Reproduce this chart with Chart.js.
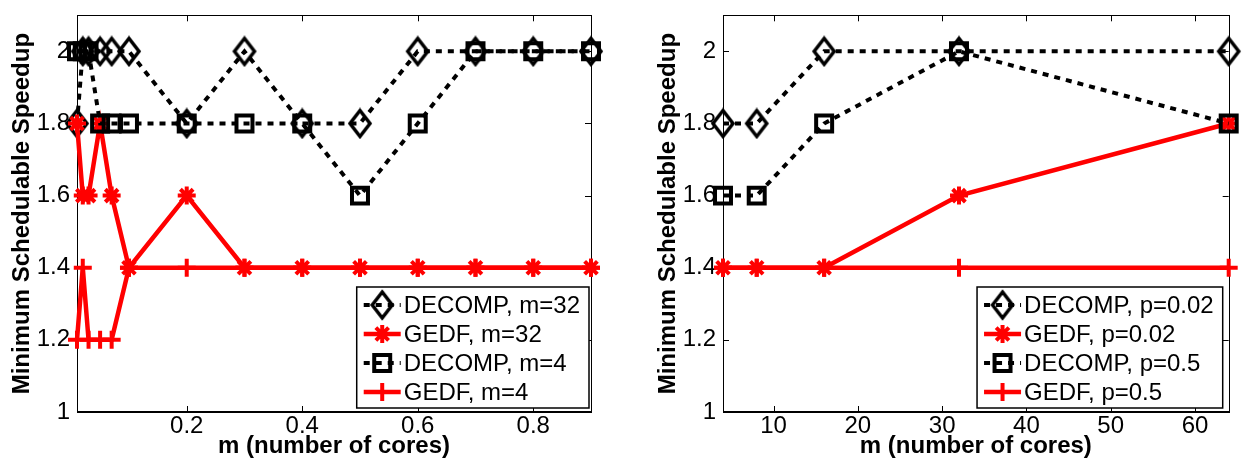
<!DOCTYPE html>
<html><head><meta charset="utf-8">
<script src="https://cdn.jsdelivr.net/npm/chart.js@4.4.0/dist/chart.umd.min.js"></script>
<style>
html,body{margin:0;padding:0;background:#fff;}
#wrap{position:relative;width:1244px;height:465px;overflow:hidden;}
canvas{position:absolute;top:0;}
</style></head><body>
<div id="wrap">
<canvas id="c1" width="622" height="465" style="left:0"></canvas>
<canvas id="c2" width="622" height="465" style="left:622px"></canvas>
</div>
<script>
// ---- data ----
const fracX      = [0.01,0.02,0.03,0.05,0.07,0.1,0.2,0.3,0.4,0.5,0.6,0.7,0.8,0.9];
const decompM32  = [1.8,2,2,2,2,2,1.8,2,1.8,1.8,2,2,2,2];
const gedfM32    = [1.8,1.6,1.6,1.8,1.6,1.4,1.6,1.4,1.4,1.4,1.4,1.4,1.4,1.4];
const decompM4   = [2,2,2,1.8,1.8,1.8,1.8,1.8,1.8,1.6,1.8,2,2,2];
const gedfM4     = [1.2,1.4,1.2,1.2,1.2,1.4,1.4,1.4,1.4,1.4,1.4,1.4,1.4,1.4];
const coresX     = [4,8,16,32,64];
const decompP002 = [1.8,1.8,2,2,2];
const gedfP002   = [1.4,1.4,1.4,1.6,1.8];
const decompP05  = [1.6,1.6,1.8,2,1.8];
const gedfP05    = [1.4,1.4,1.4,1.4,1.4];
const leftXTicks  = [0.2,0.4,0.6,0.8];
const rightXTicks = [10,20,30,40,50,60];
const yTicks      = [1,1.2,1.4,1.6,1.8,2];
const leftLabels  = ['DECOMP, m=32','GEDF, m=32','DECOMP, m=4','GEDF, m=4'];
const rightLabels = ['DECOMP, p=0.02','GEDF, p=0.02','DECOMP, p=0.5','GEDF, p=0.5'];
const xTitle = 'm (number of cores)';
const yTitle = 'Minimum Schedulable Speedup';

const FAM = '"Liberation Sans", Arial, Helvetica, sans-serif';

// diamond marker (MATLAB-like, slightly taller than wide, unfilled)
const diamond = document.createElement('canvas');
diamond.width = 26; diamond.height = 32;
(function(){const c=diamond.getContext('2d');c.strokeStyle='#000';c.lineWidth=3.5;c.lineJoin='miter';
c.beginPath();c.moveTo(13,3);c.lineTo(23,16);c.lineTo(13,29);c.lineTo(3,16);c.closePath();c.stroke();})();

const STYLES = {
  diamond:{borderColor:'#000',borderWidth:4,borderDash:[6,6],pointStyle:diamond,pointRadius:11,
           pointBorderColor:'#000',pointBackgroundColor:'rgba(0,0,0,0)',pointBorderWidth:3},
  star:{borderColor:'#ff0000',borderWidth:4.5,pointStyle:'star',pointRadius:9,
        pointBorderColor:'#ff0000',pointBackgroundColor:'#ff0000',pointBorderWidth:4},
  square:{borderColor:'#000',borderWidth:4,borderDash:[6,6],pointStyle:'rect',pointRadius:11.3,
          pointBorderColor:'#000',pointBackgroundColor:'rgba(0,0,0,0)',pointBorderWidth:4},
  plus:{borderColor:'#ff0000',borderWidth:4.5,pointStyle:'cross',pointRadius:9,
        pointBorderColor:'#ff0000',pointBackgroundColor:'#ff0000',pointBorderWidth:4}
};
const KINDS = ['diamond','star','square','plus'];

function drawMarker(ctx, ds, x, y){
  const st = ds.pointStyle, r = ds.pointRadius;
  ctx.save();
  ctx.setLineDash([]);
  ctx.strokeStyle = ds.pointBorderColor; ctx.lineWidth = ds.pointBorderWidth;
  if (st instanceof HTMLCanvasElement){ ctx.drawImage(st, x-st.width/2, y-st.height/2); }
  else if (st==='rect'){ const s=r*Math.SQRT1_2; ctx.strokeRect(x-s,y-s,2*s,2*s); }
  else if (st==='cross'){ ctx.beginPath(); ctx.moveTo(x-r,y);ctx.lineTo(x+r,y);ctx.moveTo(x,y-r);ctx.lineTo(x,y+r);ctx.stroke(); }
  else if (st==='star'){ ctx.beginPath(); ctx.moveTo(x-r,y);ctx.lineTo(x+r,y);ctx.moveTo(x,y-r);ctx.lineTo(x,y+r);
     const d=r*Math.SQRT1_2; ctx.moveTo(x-d,y-d);ctx.lineTo(x+d,y+d);ctx.moveTo(x-d,y+d);ctx.lineTo(x+d,y-d);ctx.stroke(); }
  ctx.restore();
}

const framePlugin = {
  id:'frame',
  beforeDatasetsDraw(chart){
    const {ctx, chartArea:a, scales:{x,y}} = chart;
    ctx.save();
    ctx.strokeStyle='#000'; ctx.lineWidth=1;
    ctx.strokeRect(Math.round(a.left)+0.5, Math.round(a.top)+0.5, Math.round(a.right-a.left), Math.round(a.bottom-a.top));
    ctx.lineWidth=2;
    ctx.beginPath(); ctx.moveTo(a.left, Math.round(a.bottom)); ctx.lineTo(a.right+1, Math.round(a.bottom)); ctx.stroke();
    ctx.lineWidth=1;
    const L=6;
    ctx.beginPath();
    x.ticks.forEach(t=>{const px=Math.round(x.getPixelForValue(t.value))+0.5;
      ctx.moveTo(px,a.bottom);ctx.lineTo(px,a.bottom-L);ctx.moveTo(px,a.top);ctx.lineTo(px,a.top+L);});
    y.ticks.forEach(t=>{const py=Math.round(y.getPixelForValue(t.value))+0.5;
      ctx.moveTo(a.left,py);ctx.lineTo(a.left+L,py);ctx.moveTo(a.right,py);ctx.lineTo(a.right-L,py);});
    ctx.stroke();
    ctx.restore();
  }
};

const legendPlugin = {
  id:'boxLegend',
  afterDraw(chart){
    const ctx=chart.ctx, a=chart.chartArea, dss=chart.data.datasets;
    ctx.save();
    ctx.font = '24px '+FAM;
    const tw = Math.max(...dss.map(d=>ctx.measureText(d.label).width));
    const rowH=29, w = 47 + tw + 9, h = 18 + rowH*(dss.length-1) + 16;
    const off = chart.options.plugins.boxLegend.rightOffset;
    const right = a.right - off, bottom = a.bottom - 4;
    const left = right - w, top = bottom - h;
    ctx.fillStyle='#fff'; ctx.fillRect(left,top,w,h);
    ctx.strokeStyle='#000'; ctx.lineWidth=1.5; ctx.strokeRect(left,top,w,h);
    dss.forEach((d,i)=>{
      const cy = top + 18 + rowH*i;
      ctx.save();
      ctx.strokeStyle=d.borderColor; ctx.lineWidth=d.borderWidth; ctx.setLineDash(d.borderDash||[]);
      ctx.beginPath(); ctx.moveTo(left+7,cy); ctx.lineTo(left+44,cy); ctx.stroke();
      ctx.restore();
      drawMarker(ctx,d,left+25.5,cy);
      ctx.fillStyle='#000'; ctx.textBaseline='middle'; ctx.textAlign='left';
      ctx.fillText(d.label, left+47, cy+1);
    });
    ctx.restore();
  }
};

const fmt = v => String(Math.round(v*10)/10);

function makeChart(id, xs, seriesList, labels, xMin, xMax, xTicks, padLeft, padRight, legOff){
  const datasets = seriesList.map((vals,i)=>Object.assign({
    label: labels[i],
    data: xs.map((x,j)=>({x:x, y:vals[j]})),
    order: -i, clip:false, tension:0, fill:false
  }, STYLES[KINDS[i]]));
  return new Chart(document.getElementById(id), {
    type:'line',
    data:{datasets},
    options:{
      responsive:false, animation:false, devicePixelRatio:1,
      layout:{padding:{left:padLeft,right:padRight,top:12,bottom:4.6}},
      plugins:{legend:{display:false}, tooltip:{enabled:false}, boxLegend:{rightOffset:legOff}},
      scales:{
        x:{type:'linear', min:xMin, max:xMax,
           afterBuildTicks:s=>{s.ticks = xTicks.map(v=>({value:v}));},
           afterFit:s=>{s.height=48.4; s.paddingLeft=0; s.paddingRight=0;},
           grid:{display:false, drawTicks:false}, border:{display:false},
           ticks:{color:'#000', font:{family:FAM,size:24}, padding:0, maxRotation:0, autoSkip:false, callback:fmt},
           title:{display:true, text:xTitle, color:'#000', font:{family:FAM,size:24,weight:'bold'}, padding:0}},
        y:{type:'linear', min:1, max:2.1,
           afterBuildTicks:s=>{s.ticks = yTicks.map(v=>({value:v}));},
           afterFit:s=>{s.width=69; s.paddingTop=0; s.paddingBottom=0;},
           grid:{display:false, drawTicks:false}, border:{display:false},
           ticks:{color:'#000', font:{family:FAM,size:24}, padding:7, autoSkip:false, callback:fmt},
           title:{display:true, text:yTitle, color:'#000', font:{family:FAM,size:24,weight:'bold'}, padding:0}}
      }
    },
    plugins:[framePlugin, legendPlugin]
  });
}

makeChart('c1', fracX, [decompM32,gedfM32,decompM4,gedfM4], leftLabels, 0.01, 0.9, leftXTicks, 8, 31, 2);
makeChart('c2', coresX, [decompP002,gedfP002,decompP05,gedfP05], rightLabels, 4, 64, rightXTicks, 32, 2, 6);
</script>
</body></html>
